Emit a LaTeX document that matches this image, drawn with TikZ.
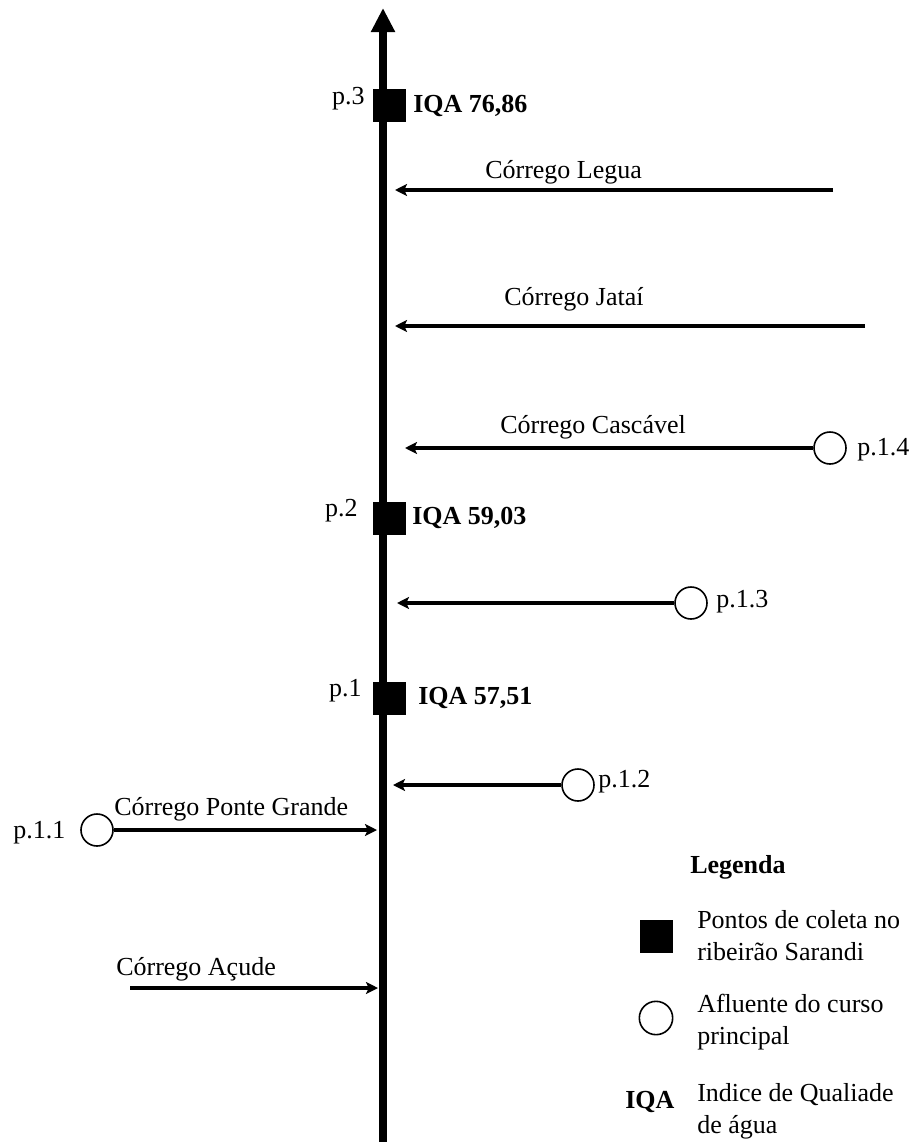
\documentclass[tikz,border=0pt]{standalone}
\usepackage{fontspec}
\setmainfont{Liberation Serif}
\usetikzlibrary{
    arrows.meta,
    positioning
}

\tikzset{
    rio/.style={line width=6.5pt, -{Triangle[length=18pt,width=17pt]}},
    trib/.style={line width=3pt, -{Stealth[length=9pt,width=9pt,inset=2pt]}},
    ponto/.style={rectangle, fill=black, minimum size=24.75pt, inner sep=0pt},
    afl/.style={circle, draw, line width=1.2pt, fill=white, minimum size=24pt, inner sep=0pt},
    lbl/.style={inner sep=0pt, anchor=base west},
    lble/.style={inner sep=0pt, anchor=base east},
    iqa/.style={lbl, font=\fontsize{19.5}{24}\selectfont\bfseries}
}

\begin{document}
\begin{tikzpicture}[x=0.75pt, y=-0.75pt, font=\fontsize{19.5}{24}\selectfont]
    \useasboundingbox (0,0) rectangle (919,1142);

    % ribeirao Sarandi
    \coordinate (nasc) at (383,1142);
    \coordinate (foz) at (383,8);
    \draw[rio] (nasc) -- (foz);

    % pontos de coleta
    \node[ponto] (p3) at (389,105) {};
    \node[ponto] (p2) at (389,518) {};
    \node[ponto] (p1) at (389,698) {};
    \node[lble] (p3l) at (365,104) {p.3};
    \node[lble] (p2l) at (358,516) {p.2};
    \node[lble] (p1l) at (362,696) {p.1};
    \node[iqa] (q3) at (413,112) {IQA 76,86};
    \node[iqa] (q2) at (412,524) {IQA 59,03};
    \node[iqa] (q1) at (418,704) {IQA 57,51};

    % afluentes
    \coordinate (s5) at (833,190);
    \coordinate (t5) at (395,190);
    \coordinate (s6) at (865,326);
    \coordinate (t6) at (395,326);
    \coordinate (t4) at (405,448);
    \coordinate (t3) at (397,603);
    \coordinate (t2) at (393,785);
    \coordinate (t1) at (377,830);
    \coordinate (s0) at (130,988);
    \coordinate (t0) at (378,988);

    \node[afl] (c4) at (830,448) {};
    \node[afl] (c3) at (691,603) {};
    \node[afl] (c2) at (578,785) {};
    \node[afl] (c1) at (97,830) {};

    \draw[trib] (s5) -- (t5);
    \draw[trib] (s6) -- (t6);
    \draw[trib] (c4) -- (t4);
    \draw[trib] (c3) -- (t3);
    \draw[trib] (c2) -- (t2);
    \draw[trib] (c1) -- (t1);
    \draw[trib] (s0) -- (t0);

    \node[lbl] (n5) at (485,178) {Córrego Legua};
    \node[lbl] (n6) at (504,305) {Córrego Jataí};
    \node[lbl] (n4) at (500,433) {Córrego Cascável};
    \node[lbl] (n1) at (114,815) {Córrego Ponte Grande};
    \node[lbl] (n0) at (116,975) {Córrego Açude};
    \node[lbl] (c4l) at (857,455) {p.1.4};
    \node[lbl] (c3l) at (716,607) {p.1.3};
    \node[lbl] (c2l) at (598,787) {p.1.2};
    \node[lbl] (c1l) at (13,838) {p.1.1};

    % legenda
    \node[iqa] (leg) at (690,873) {Legenda};
    \node[ponto] (legp) at (656,936) {};
    \node[afl, minimum size=25pt] (legc) at (656,1018) {};
    \node[iqa] (legq) at (625,1108) {IQA};
    \node[lbl, align=left] (legpt) at (697,960) {Pontos de coleta no\\ribeirão Sarandi};
    \node[lbl, align=left] (legct) at (697,1044) {Afluente do curso\\principal};
    \node[lbl, align=left] (legqt) at (697,1133) {Indice de Qualiade\\de água};
\end{tikzpicture}
\end{document}
